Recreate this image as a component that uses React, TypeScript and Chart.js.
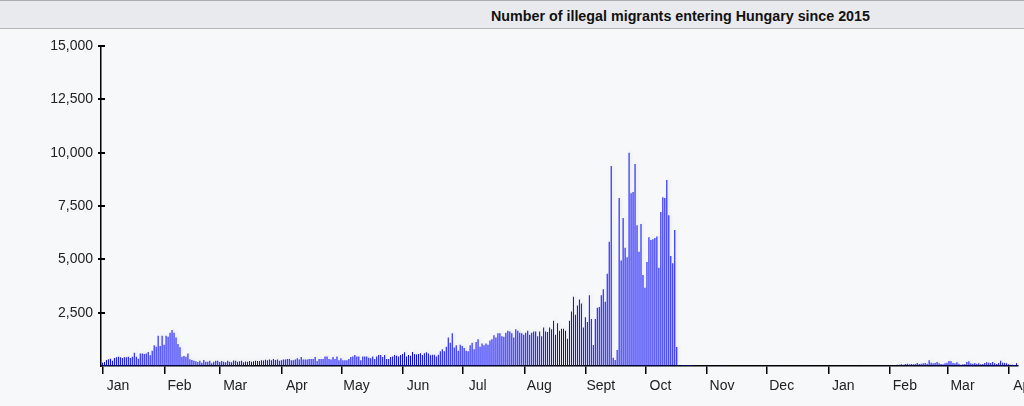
import React, { useEffect, useRef } from "react";
import { Chart, registerables } from "chart.js";

Chart.register(...registerables);

// Daily counts, Jan 1 2015 .. Apr 5 2016
const jan2015 = [156, 187, 280, 312, 343, 250, 375, 406, 437, 406, 375, 406, 406, 437, 375, 437, 625, 437, 343, 590, 590, 560, 590, 655, 500, 720, 970, 900, 1420, 940, 1420];
const feb2015 = [1000, 1420, 1370, 1560, 1690, 1560, 1340, 1030, 875, 437, 470, 437, 590, 312, 280, 250, 220, 190, 250, 156, 280, 200, 200, 250, 130, 200, 250, 250];
const mar2015 = [190, 240, 200, 170, 250, 200, 170, 260, 250, 200, 220, 250, 170, 210, 200, 230, 200, 220, 250, 240, 230, 270, 260, 290, 270, 300, 265, 330, 280, 300, 250];
const apr2015 = [265, 300, 300, 330, 330, 265, 265, 300, 360, 300, 420, 300, 300, 300, 330, 330, 330, 420, 235, 330, 330, 330, 450, 450, 330, 300, 420, 330, 450, 265];
const may2015 = [360, 265, 265, 265, 330, 420, 450, 515, 450, 450, 265, 450, 450, 450, 390, 360, 450, 330, 450, 515, 515, 420, 515, 330, 330, 420, 450, 515, 480, 450, 515];
const jun2015 = [560, 640, 450, 520, 480, 660, 560, 540, 560, 600, 520, 600, 650, 590, 500, 530, 530, 440, 530, 690, 780, 690, 900, 1340, 1090, 1530, 870, 970, 720, 1000];
const jul2015 = [940, 840, 720, 690, 970, 1090, 780, 1120, 1250, 900, 1060, 970, 1060, 1000, 1190, 1250, 1440, 1340, 1530, 1530, 1400, 1370, 1560, 1650, 1620, 1530, 1340, 1720, 1650, 1560, 1530];
const aug2015 = [1470, 1560, 1650, 1470, 1560, 1620, 1620, 1400, 1620, 1400, 1810, 1620, 1590, 1810, 1720, 2120, 1470, 2000, 1650, 1750, 1750, 1650, 1280, 2120, 2560, 3250, 2400, 2840, 3120, 2930, 1810];
const sep2015 = [2290, 2060, 3320, 2200, 980, 2200, 2730, 2760, 3320, 3600, 3010, 4320, 5820, 9380, 390, 280, 750, 7880, 4950, 6940, 5540, 5100, 10000, 8100, 8160, 9470, 6600, 5350, 6660, 4260];
const oct2015 = [3670, 4880, 6040, 5910, 5940, 6000, 6070, 4600, 7220, 7910, 7880, 8720, 7070, 5160, 4820, 6380, 890, 40, 0, 45, 40, 45, 45, 40, 45, 0, 0, 0, 0, 0, 0];
const nov2015 = [0, 30, 0, 0, 0, 0, 0, 0, 30, 0, 0, 0, 0, 0, 0, 0, 0, 0, 0, 0, 0, 0, 0, 0, 0, 0, 0, 0, 0, 0];
const dec2015 = [0, 0, 0, 0, 30, 0, 0, 0, 0, 0, 0, 0, 0, 0, 0, 0, 0, 0, 30, 0, 30, 0, 0, 0, 0, 0, 0, 0, 0, 0, 0];
const jan2016 = [0, 0, 0, 0, 0, 0, 30, 0, 0, 0, 0, 0, 0, 0, 0, 30, 0, 0, 30, 0, 0, 30, 0, 0, 0, 0, 40, 30, 40, 40, 50];
const feb2016 = [47, 47, 31, 47, 62, 62, 78, 62, 94, 109, 78, 94, 78, 94, 140, 94, 109, 125, 140, 109, 265, 156, 125, 140, 187, 125, 94, 78, 125];
const mar2016 = [156, 234, 218, 140, 125, 172, 109, 62, 78, 94, 187, 218, 125, 109, 140, 109, 125, 78, 94, 140, 172, 156, 140, 187, 125, 94, 140, 250, 156, 140, 125];
const apr2016 = [78, 62, 62, 47, 125];

// Month starts (day index from Jan 1 2015) and their labels
const monthTickDays = [0, 31, 59, 90, 120, 151, 181, 212, 243, 273, 304, 334, 365, 396, 425, 456];
const monthTickLabels = ["Jan", "Feb", "Mar", "Apr", "May", "Jun", "Jul", "Aug", "Sept", "Oct", "Nov", "Dec", "Jan", "Feb", "Mar", "Apr"];
const yTickValues = [2500, 5000, 7500, 10000, 12500, 15000];

const titleText = "Number of illegal migrants entering Hungary since 2015";

const FONT = "'Liberation Sans', Arial, sans-serif";

export default function App() {
  const ref = useRef<HTMLCanvasElement>(null);

  useEffect(() => {
    const daily = [
      ...jan2015, ...feb2015, ...mar2015, ...apr2015, ...may2015, ...jun2015,
      ...jul2015, ...aug2015, ...sep2015, ...oct2015, ...nov2015, ...dec2015,
      ...jan2016, ...feb2016, ...mar2016, ...apr2016,
    ];
    const points = daily.map((v, i) => ({ x: i - 0.25, y: v }));

    const shadowPlugin = {
      id: "barShadow",
      beforeDatasetsDraw(chart: any) {
        const ctx = chart.ctx;
        ctx.save();
        ctx.shadowColor = "rgba(0,0,30,0.09)";
        ctx.shadowOffsetX = 2;
        ctx.shadowOffsetY = -2;
        ctx.shadowBlur = 3;
      },
      afterDatasetsDraw(chart: any) {
        chart.ctx.restore();
      },
    };

    const yTickMarks = {
      id: "yTickMarks",
      afterDraw(chart: any) {
        const ctx = chart.ctx;
        const ys = chart.scales.y;
        const left = chart.chartArea.left;
        ctx.save();
        ctx.strokeStyle = "#000";
        ctx.lineWidth = 2;
        yTickValues.forEach((v) => {
          const y = Math.round(ys.getPixelForValue(v));
          ctx.beginPath();
          ctx.moveTo(left - 3, y);
          ctx.lineTo(left + 4, y);
          ctx.stroke();
        });
        ctx.restore();
      },
    };

    const chart = new Chart(ref.current!, {
      type: "bar",
      data: {
        datasets: [
          {
            data: points as any,
            backgroundColor: "#0000ff",
            barThickness: 1,
            inflateAmount: 0,
            borderWidth: 0,
          } as any,
        ],
      },
      options: {
        animation: false,
        responsive: false,
        maintainAspectRatio: false,
        devicePixelRatio: 1,
        layout: { padding: { top: 17, left: 0, right: 0, bottom: 0 }, autoPadding: false } as any,
        plugins: { legend: { display: false }, tooltip: { enabled: false }, title: { display: false } },
        scales: {
          x: {
            type: "linear",
            min: -1,
            max: 460.5,
            offset: false,
            z: 1,
            afterBuildTicks: (s: any) => {
              s.ticks = monthTickDays.map((v) => ({ value: v }));
            },
            afterFit: (s: any) => {
              s.height = 40;
            },
            ticks: {
              autoSkip: false,
              maxRotation: 0,
              minRotation: 0,
              labelOffset: 15,
              padding: 4,
              color: "#222",
              font: { family: FONT, size: 14 },
              callback: (_v: any, i: number) => monthTickLabels[i],
            },
            grid: { offset: false, drawOnChartArea: false, tickLength: 8, color: "#000", lineWidth: 1.5 },
            border: { color: "#000", width: 1.5 },
          } as any,
          y: {
            min: 0,
            max: 15000,
            z: 1,
            afterFit: (s: any) => {
              s.width = 101;
            },
            ticks: {
              stepSize: 2500,
              padding: 8,
              color: "#222",
              font: { family: FONT, size: 14 },
              callback: (v: any) => (v === 0 ? "" : Number(v).toLocaleString("en-US")),
            },
            grid: { drawOnChartArea: false, drawTicks: false },
            border: { color: "#000", width: 1.5 },
          } as any,
        },
      },
      plugins: [shadowPlugin, yTickMarks],
    });
    return () => chart.destroy();
  }, []);

  return (
    <div style={{ position: "fixed", left: 0, top: 0, width: 1024, height: 406, background: "#f7f8fa", overflow: "hidden" }}>
      <div
        style={{
          position: "absolute",
          left: 0,
          top: 0,
          width: 1024,
          height: 27,
          background: "#e9eaee",
          borderTop: "1px solid #a9abb0",
          borderBottom: "1px solid #b4b6bb",
        }}
      >
        <div
          style={{
            position: "absolute",
            left: 491,
            top: 7,
            fontFamily: FONT,
            fontWeight: "bold",
            fontSize: 14.3,
            lineHeight: "16px",
            color: "#111",
            whiteSpace: "nowrap",
          }}
        >
          {titleText}
        </div>
      </div>
      <canvas ref={ref} width={1024} height={377} style={{ position: "absolute", left: 0, top: 29, width: 1024, height: 377 }} />
    </div>
  );
}
